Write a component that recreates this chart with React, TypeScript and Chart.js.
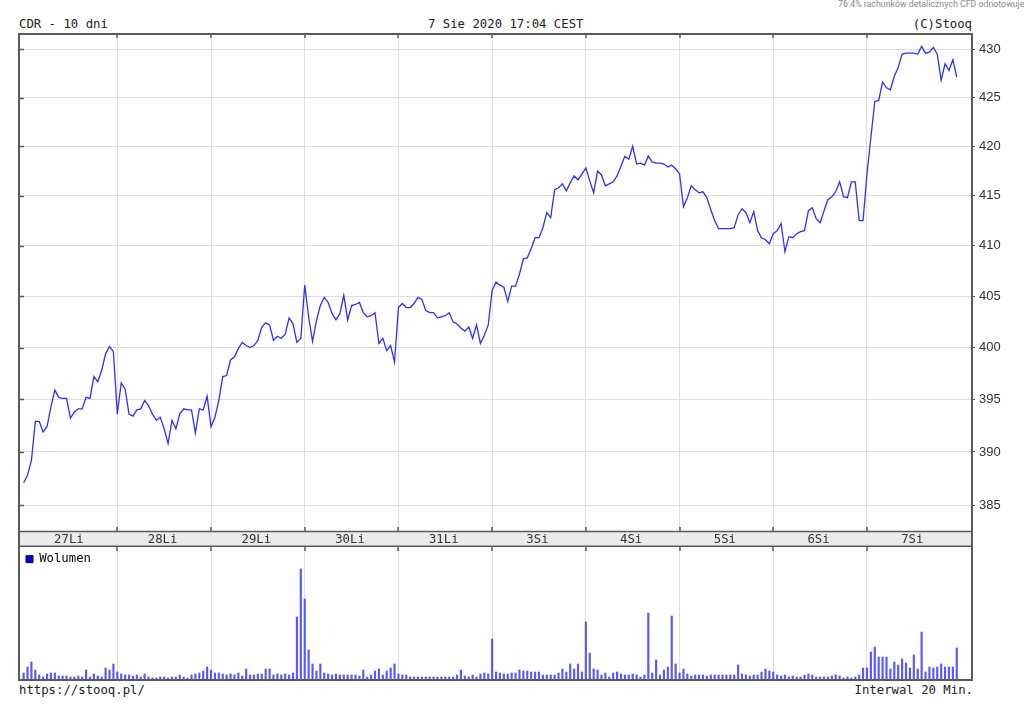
import React, { useEffect, useRef } from 'react';
import { Chart, registerables } from 'chart.js';

Chart.register(...registerables);

// ---- data ----
const dayLabels = ['27Li', '28Li', '29Li', '30Li', '31Li', '3Si', '4Si', '5Si', '6Si', '7Si'];
const priceTicks = [385, 390, 395, 400, 405, 410, 415, 420, 425, 430];

// close prices, 20-minute bars, 24 per session
const price = [
  387.1, 387.8, 389.2, 392.9, 392.9, 391.9, 392.4, 394.3, 395.9, 395.2, 395.1, 395.1, 393.2, 393.8, 394.1, 394.1, 395.2, 395.1, 397.2, 396.7, 397.8, 399.4, 400.1, 399.6,
  393.6, 396.6, 396.0, 393.6, 393.4, 394.0, 394.1, 394.9, 394.4, 393.6, 393.0, 393.3, 392.2, 390.8, 393.0, 392.2, 393.6, 394.1, 394.0, 394.0, 391.8, 394.1, 394.0, 395.3,
  392.4, 393.3, 394.9, 397.2, 397.3, 398.8, 399.1, 399.9, 400.5, 400.2, 400.0, 400.2, 400.7, 402.0, 402.4, 402.2, 400.7, 401.1, 400.9, 401.3, 402.9, 402.3, 400.5, 400.9,
  406.1, 403.0, 400.6, 402.6, 404.1, 404.9, 404.4, 403.3, 402.7, 403.3, 405.1, 402.7, 404.1, 404.2, 404.4, 403.4, 403.0, 403.1, 403.4, 400.4, 400.9, 399.7, 400.2, 398.6,
  403.9, 404.3, 403.9, 403.9, 404.3, 404.9, 404.7, 403.6, 403.4, 403.4, 402.9, 403.0, 403.1, 403.4, 402.5, 402.3, 401.9, 401.6, 402.0, 400.9, 402.2, 400.4, 401.2, 402.2,
  405.6, 406.4, 406.1, 405.9, 404.5, 406.0, 406.0, 407.2, 408.7, 408.8, 409.7, 410.8, 410.8, 411.8, 413.3, 412.8, 415.6, 415.8, 416.2, 415.5, 416.3, 417.0, 416.6, 417.2,
  417.8, 416.5, 415.3, 417.5, 417.1, 416.0, 416.2, 416.4, 417.0, 418.0, 419.0, 418.7, 420.0, 418.2, 418.3, 418.1, 419.0, 418.4, 418.3, 418.3, 418.2, 417.9, 418.1, 417.7,
  417.2, 413.9, 414.8, 416.0, 415.6, 415.3, 415.4, 414.8, 413.6, 412.5, 411.7, 411.7, 411.7, 411.7, 411.8, 413.1, 413.7, 413.3, 412.3, 413.4, 411.5, 410.8, 410.6, 410.2,
  411.2, 411.5, 412.2, 409.4, 410.9, 410.8, 411.2, 411.4, 411.5, 413.5, 413.8, 412.7, 412.3, 413.5, 414.6, 414.9, 415.4, 416.4, 414.9, 414.8, 416.4, 416.4, 412.5, 412.5,
  417.2, 420.9, 424.6, 424.7, 426.6, 426.0, 425.8, 427.2, 428.1, 429.5, 429.6, 429.6, 429.6, 429.5, 430.3, 429.6, 429.7, 430.2, 429.5, 426.8, 428.5, 427.8, 428.9, 427.1,
];

// volume per bar (relative units, estimated)
const volume = [
  7, 13, 18, 10, 5, 3, 6, 7, 7, 4, 4, 4, 3, 3, 4, 3, 10, 3, 6, 4, 3, 12, 10, 16,
  8, 6, 5, 5, 4, 5, 3, 6, 3, 2, 2, 3, 3, 2, 3, 3, 5, 3, 2, 5, 6, 7, 9, 13,
  10, 7, 7, 6, 5, 6, 5, 7, 4, 11, 5, 5, 6, 6, 11, 11, 5, 6, 5, 6, 5, 7, 63, 111,
  81, 30, 16, 9, 16, 7, 6, 5, 6, 5, 5, 5, 5, 5, 4, 10, 3, 5, 9, 11, 5, 9, 12, 16,
  6, 5, 5, 3, 3, 3, 3, 3, 3, 3, 3, 3, 3, 3, 3, 5, 10, 4, 3, 5, 3, 6, 7, 6,
  41, 8, 7, 6, 6, 7, 7, 10, 9, 9, 8, 8, 8, 5, 5, 5, 5, 7, 11, 8, 16, 11, 16, 8,
  58, 27, 11, 10, 5, 7, 3, 7, 8, 6, 5, 5, 6, 5, 3, 5, 67, 7, 20, 5, 10, 13, 64, 16,
  7, 11, 6, 4, 5, 5, 5, 4, 5, 5, 5, 5, 5, 5, 5, 15, 6, 5, 4, 5, 5, 8, 11, 9,
  8, 5, 4, 5, 3, 4, 3, 3, 5, 6, 5, 3, 3, 3, 3, 4, 5, 4, 2, 3, 2, 3, 5, 12,
  12, 28, 33, 23, 23, 23, 11, 18, 15, 21, 17, 12, 25, 11, 48, 8, 13, 12, 13, 16, 13, 13, 13, 32,
];

// ---- layout / style ----
const BARS_PER_DAY = 24;
const X_MIN = -1.18;
const X_MAX = 242.9;
const Y_MIN = 382.6;
const Y_MAX = 431.6;
const VOL_MAX = 133;
const BAND = 15;
const MONO = '"DejaVu Sans Mono", monospace';
const SANS = '"Liberation Sans", Arial, sans-serif';
const FRAME = '#5a5a5a';
const GRID = '#dedede';

const separators = dayLabels.slice(1).map((_, d) => (d + 1) * BARS_PER_DAY);

const priceFrame = {
  id: 'priceFrame',
  beforeDraw(chart: any) {
    const { ctx, chartArea: a } = chart;
    ctx.save();
    ctx.fillStyle = '#ebebeb';
    ctx.fillRect(a.left, a.bottom, a.right - a.left, BAND);
    ctx.restore();
  },
  afterDraw(chart: any) {
    const { ctx, chartArea: a, scales } = chart;
    ctx.save();
    ctx.strokeStyle = FRAME;
    ctx.lineWidth = 1.5;
    ctx.beginPath();
    ctx.moveTo(a.left, a.bottom + 0.5);
    ctx.lineTo(a.right, a.bottom + 0.5);
    ctx.moveTo(a.left, a.bottom + BAND + 0.25);
    ctx.lineTo(a.right, a.bottom + BAND + 0.25);
    ctx.stroke();
    ctx.lineWidth = 1.5;
    ctx.beginPath();
    separators.forEach((v) => {
      const px = Math.round(scales.x.getPixelForValue(v));
      ctx.moveTo(px, a.top);
      ctx.lineTo(px, a.top + 4);
      ctx.moveTo(px, a.bottom - 4);
      ctx.lineTo(px, a.bottom);
    });
    priceTicks.forEach((v) => {
      const py = Math.round(scales.y.getPixelForValue(v)) + 0.5;
      ctx.moveTo(a.left, py);
      ctx.lineTo(a.left + 5, py);
    });
    ctx.stroke();
    ctx.lineWidth = 2;
    ctx.beginPath();
    ctx.moveTo(a.left, a.bottom + BAND + 1);
    ctx.lineTo(a.left, a.top);
    ctx.lineTo(a.right, a.top);
    ctx.lineTo(a.right, a.bottom + BAND + 1);
    ctx.stroke();
    ctx.restore();
  },
};

const volFrame = {
  id: 'volFrame',
  afterDraw(chart: any) {
    const { ctx, chartArea: a, scales } = chart;
    ctx.save();
    ctx.strokeStyle = FRAME;
    ctx.lineWidth = 1.5;
    ctx.beginPath();
    separators.forEach((v) => {
      const px = Math.round(scales.x.getPixelForValue(v));
      ctx.moveTo(px, 0);
      ctx.lineTo(px, a.top + 4);
    });
    ctx.stroke();
    ctx.lineWidth = 2;
    ctx.beginPath();
    ctx.moveTo(a.left, 0);
    ctx.lineTo(a.left, a.bottom);
    ctx.lineTo(a.right, a.bottom);
    ctx.lineTo(a.right, 0);
    ctx.stroke();
    ctx.restore();
  },
};

function PriceChart() {
  const ref = useRef<HTMLCanvasElement | null>(null);
  useEffect(() => {
    if (!ref.current) return;
    const chart = new Chart(ref.current, {
      type: 'line',
      data: {
        datasets: [
          {
            label: 'CDR',
            data: price.map((v, i) => ({ x: i, y: v })),
            borderColor: '#2f2fff',
            borderWidth: 1.3,
            pointRadius: 0,
            tension: 0,
            xAxisID: 'x',
            yAxisID: 'y',
          },
        ],
      },
      options: {
        responsive: false,
        animation: false,
        devicePixelRatio: 1,
        events: [],
        layout: { padding: { left: 19, top: 34, right: 0, bottom: 1 } },
        plugins: { legend: { display: false }, tooltip: { enabled: false } },
        scales: {
          x: {
            type: 'linear',
            position: 'bottom',
            min: X_MIN,
            max: X_MAX,
            offset: false,
            grid: { display: false, drawTicks: false },
            border: { display: false },
            afterBuildTicks: (s: any) => {
              s.ticks = dayLabels.map((_, d) => ({ value: d * BARS_PER_DAY + 11.6 }));
            },
            afterFit: (s: any) => {
              s.height = BAND;
            },
            ticks: {
              autoSkip: false,
              maxRotation: 0,
              minRotation: 0,
              padding: 1,
              color: '#333',
              font: { family: MONO, size: 12.3 },
              callback: (_v: any, i: number) => dayLabels[i],
            },
          },
          xg: {
            type: 'linear',
            position: 'top',
            min: X_MIN,
            max: X_MAX,
            offset: false,
            grid: { color: GRID, lineWidth: 1, drawTicks: false, offset: false },
            border: { display: false },
            afterBuildTicks: (s: any) => {
              s.ticks = separators.map((v) => ({ value: v }));
            },
            afterFit: (s: any) => {
              s.height = 0;
            },
            ticks: { display: false },
          },
          y: {
            type: 'logarithmic',
            position: 'right',
            min: Y_MIN,
            max: Y_MAX,
            grid: { color: GRID, lineWidth: 1, drawTicks: true, tickLength: 3, tickColor: FRAME },
            border: { display: false },
            afterBuildTicks: (s: any) => {
              s.ticks = priceTicks.map((v) => ({ value: v }));
            },
            afterFit: (s: any) => {
              s.width = 52;
            },
            ticks: {
              autoSkip: false,
              padding: 4,
              color: '#333',
              font: { family: SANS, size: 13 },
              callback: (v: any) => String(v),
            },
          },
        },
      },
      plugins: [priceFrame],
    } as any);
    return () => chart.destroy();
  }, []);
  return (
    <canvas
      ref={ref}
      width={1024}
      height={547}
      style={{ position: 'absolute', left: 0, top: 0, width: 1024, height: 547 }}
    />
  );
}

function VolumeChart() {
  const ref = useRef<HTMLCanvasElement | null>(null);
  useEffect(() => {
    if (!ref.current) return;
    const chart = new Chart(ref.current, {
      type: 'bar',
      data: {
        datasets: [
          {
            label: 'Wolumen',
            data: volume.map((v, i) => ({ x: i, y: v })),
            backgroundColor: '#5858ff',
            borderWidth: 0,
            barThickness: 1.5,
          },
        ],
      },
      options: {
        responsive: false,
        animation: false,
        devicePixelRatio: 1,
        events: [],
        layout: { padding: { left: 19, top: 1, right: 52, bottom: 1 } },
        plugins: {
          tooltip: { enabled: false },
          legend: {
            display: true,
            position: 'chartArea',
            align: 'start',
            labels: {
              boxWidth: 7,
              boxHeight: 7,
              padding: 7,
              color: '#222',
              font: { family: MONO, size: 12.3 },
              generateLabels: () => [
                {
                  text: 'Wolumen',
                  fillStyle: '#0000dd',
                  strokeStyle: '#00005a',
                  lineWidth: 1,
                  hidden: false,
                  datasetIndex: 0,
                },
              ],
            },
          },
        },
        scales: {
          x: {
            type: 'linear',
            position: 'bottom',
            min: X_MIN,
            max: X_MAX,
            offset: false,
            grid: { color: GRID, lineWidth: 1, drawTicks: false, offset: false },
            border: { display: false },
            afterBuildTicks: (s: any) => {
              s.ticks = separators.map((v) => ({ value: v }));
            },
            afterFit: (s: any) => {
              s.height = 0;
            },
            ticks: { display: false },
          },
          y: {
            display: false,
            min: 0,
            max: VOL_MAX,
          },
        },
      },
      plugins: [volFrame],
    } as any);
    return () => chart.destroy();
  }, []);
  return (
    <canvas
      ref={ref}
      width={1024}
      height={135}
      style={{ position: 'absolute', left: 0, top: 546, width: 1024, height: 135 }}
    />
  );
}

const textStyle: React.CSSProperties = {
  position: 'absolute',
  fontFamily: MONO,
  fontSize: 12.3,
  lineHeight: '14px',
  color: '#222',
  whiteSpace: 'nowrap',
};

export default function App() {
  return (
    <div
      style={{
        position: 'fixed',
        left: 0,
        top: 0,
        width: 1024,
        height: 710,
        overflow: 'hidden',
        background: '#fff',
      }}
    >
      <div
        style={{
          position: 'absolute',
          left: 838,
          top: -1,
          fontFamily: 'Roboto, "Noto Sans", sans-serif',
          fontSize: 8.8,
          lineHeight: '10px',
          color: '#8a8a8a',
          whiteSpace: 'nowrap',
        }}
      >
        76.4% rachunków detalicznych CFD odnotowuje
      </div>
      <div style={{ ...textStyle, left: 19, top: 17 }}>CDR - 10 dni</div>
      <div style={{ ...textStyle, left: 428, top: 17 }}>7 Sie 2020 17:04 CEST</div>
      <div style={{ ...textStyle, right: 52, top: 17 }}>(C)Stooq</div>
      <PriceChart />
      <VolumeChart />
      <div style={{ ...textStyle, left: 19, top: 683 }}>https://stooq.pl/</div>
      <div style={{ ...textStyle, right: 51, top: 683 }}>Interwal 20 Min.</div>
    </div>
  );
}
